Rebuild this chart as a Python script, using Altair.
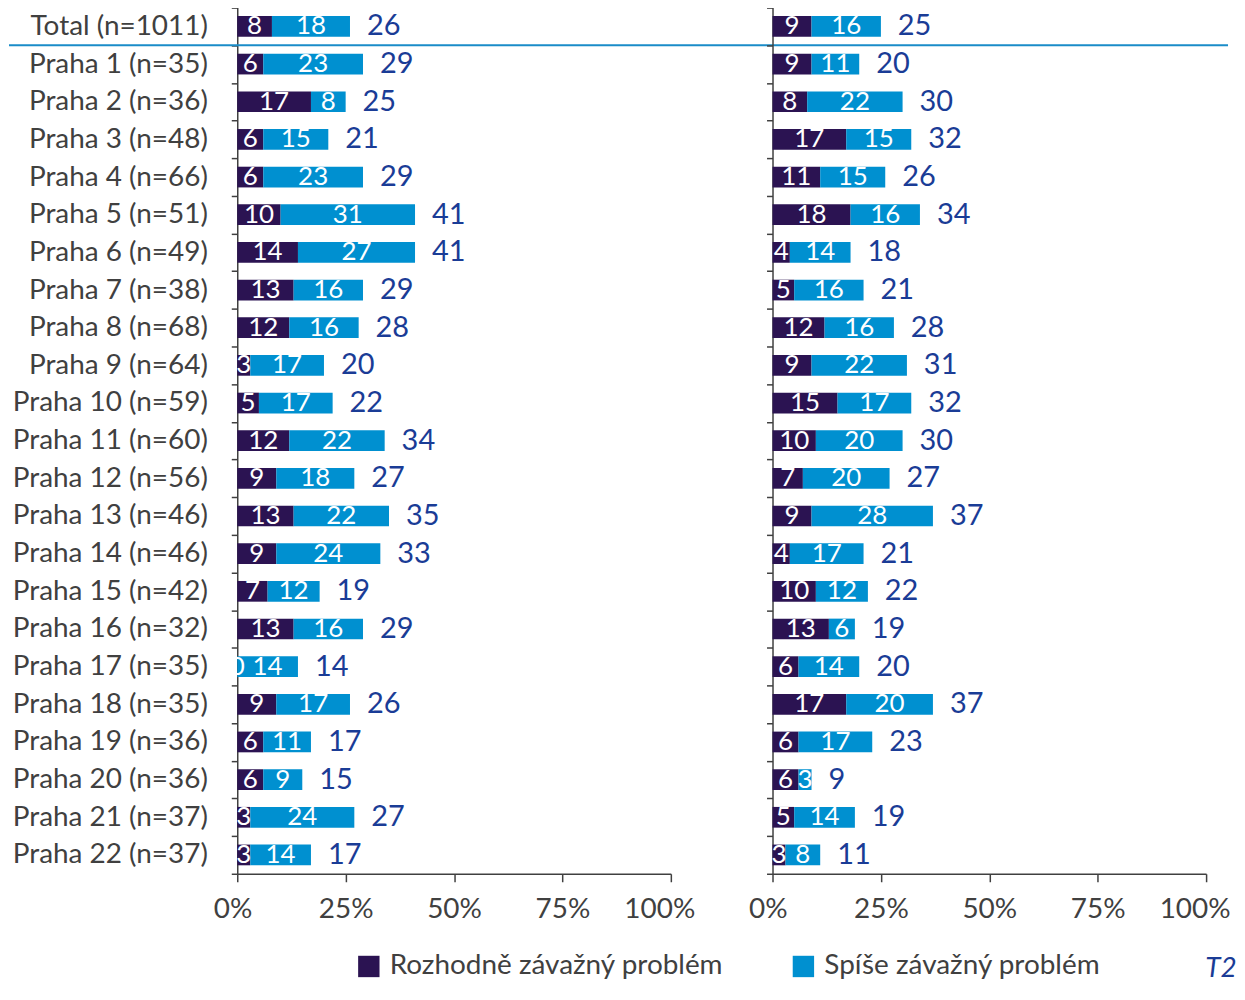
import altair as alt
import pandas as pd

categories = [
    "Total (n=1011)", "Praha 1 (n=35)", "Praha 2 (n=36)", "Praha 3 (n=48)",
    "Praha 4 (n=66)", "Praha 5 (n=51)", "Praha 6 (n=49)", "Praha 7 (n=38)",
    "Praha 8 (n=68)", "Praha 9 (n=64)", "Praha 10 (n=59)", "Praha 11 (n=60)",
    "Praha 12 (n=56)", "Praha 13 (n=46)", "Praha 14 (n=46)", "Praha 15 (n=42)",
    "Praha 16 (n=32)", "Praha 17 (n=35)", "Praha 18 (n=35)", "Praha 19 (n=36)",
    "Praha 20 (n=36)", "Praha 21 (n=37)", "Praha 22 (n=37)",
]
series = ["Rozhodně závažný problém", "Spíše závažný problém"]

left_strong = [8, 6, 17, 6, 6, 10, 14, 13, 12, 3, 5, 12, 9, 13, 9, 7, 13, 0, 9, 6, 6, 3, 3]
left_rather = [18, 23, 8, 15, 23, 31, 27, 16, 16, 17, 17, 22, 18, 22, 24, 12, 16, 14, 17, 11, 9, 24, 14]
left_total = [26, 29, 25, 21, 29, 41, 41, 29, 28, 20, 22, 34, 27, 35, 33, 19, 29, 14, 26, 17, 15, 27, 17]

right_strong = [9, 9, 8, 17, 11, 18, 4, 5, 12, 9, 15, 10, 7, 9, 4, 10, 13, 6, 17, 6, 6, 5, 3]
right_rather = [16, 11, 22, 15, 15, 16, 14, 16, 16, 22, 17, 20, 20, 28, 17, 12, 6, 14, 20, 17, 3, 14, 8]
right_total = [25, 20, 30, 32, 26, 34, 18, 21, 28, 31, 32, 30, 27, 37, 21, 22, 19, 20, 37, 23, 9, 19, 11]

x_ticks = [0, 25, 50, 75, 100]
note_text = ["T2"]

DARK = "#2b1352"
LIGHT = "#0090d0"
TOTAL_COLOR = "#1a3c96"
GRAY = "#404040"
FONT = "Lato"


def panel(strong, rather, total, show_labels, with_legend, with_rule, with_note):
    rows = []
    for c, s, r in zip(categories, strong, rather):
        rows.append({"cat": c, "series": series[0], "order": 0, "value": s})
        rows.append({"cat": c, "series": series[1], "order": 1, "value": r})
    df = pd.DataFrame(rows)
    tot = pd.DataFrame({"cat": categories, "total": total})

    xscale = alt.Scale(domain=[0, 100], nice=False, zero=True)
    yscale = alt.Scale(paddingInner=0, paddingOuter=0)

    yaxis = alt.Axis(
        title=None, labels=show_labels, tickBand="extent", ticks=True, tickSize=6,
        tickColor=GRAY, domainColor=GRAY, domainWidth=1.5, tickWidth=1.5,
        labelFont=FONT, labelFontSize=28, labelColor=GRAY, labelPadding=24,
        labelLimit=400, grid=False,
    )
    xaxis = alt.Axis(
        title=None, values=x_ticks, labelExpr="datum.value + '%'", tickSize=8,
        tickColor=GRAY, domainColor=GRAY, domainWidth=1.5, tickWidth=1.5,
        labelFont=FONT, labelFontSize=28, labelColor=GRAY, labelPadding=14,
        labelFlush=True, labelFlushOffset=24, grid=False,
    )

    def X(field):
        return alt.X(field, scale=xscale, axis=xaxis, title=None)

    def Y(**kw):
        return alt.Y("cat:N", sort=categories, scale=yscale, axis=yaxis, title=None, **kw)

    legend = None
    if with_legend:
        legend = alt.Legend(
            orient="none", legendX=118, legendY=948, direction="horizontal",
            title=None, symbolType="square", symbolSize=460, symbolStrokeWidth=0,
            labelFont=FONT, labelFontSize=28, labelColor=GRAY, labelOffset=7,
            columnPadding=66, labelLimit=600,
        )

    base = alt.Chart(df).transform_stack(
        stack="value", groupby=["cat"], as_=["x0", "x1"],
        sort=[alt.SortField("order", order="ascending")],
    ).transform_calculate(mid="(datum.x0 + datum.x1) / 2")

    bars = base.mark_bar(height=alt.RelativeBandSize(0.55)).encode(
        x=X("x0:Q"),
        x2="x1:Q",
        y=Y(),
        color=alt.Color("series:N", scale=alt.Scale(domain=series, range=[DARK, LIGHT]), legend=legend),
    )
    inner = base.mark_text(color="white", fontSize=26, font=FONT, baseline="middle").encode(
        x=X("mid:Q"),
        y=Y(),
        text="value:Q",
    )
    totals = alt.Chart(tot).mark_text(
        align="left", dx=17, fontSize=29, font=FONT, color=TOTAL_COLOR, baseline="middle"
    ).encode(
        x=X("total:Q"),
        y=Y(),
        text="total:Q",
    )
    layers = [bars, inner, totals]
    if with_rule:
        rule_df = pd.DataFrame({"cat": [categories[1]]})
        rule = alt.Chart(rule_df).mark_rule(color="#1a8cc8", strokeWidth=2).encode(
            y=Y(bandPosition=0),
            x=alt.value(-229),
            x2=alt.value(994),
        )
        layers.append(rule)
    if with_note:
        note = alt.Chart(pd.DataFrame({"t": note_text})).mark_text(
            fontStyle="italic", fontSize=28, font=FONT, color=TOTAL_COLOR,
            align="center", baseline="middle",
        ).encode(text="t:N", x=alt.value(450), y=alt.value(965))
        layers.append(note)
    return alt.layer(*layers).properties(width=435, height=869)


left = panel(left_strong, left_rather, left_total, True, True, True, False)
right = panel(right_strong, right_rather, right_total, False, False, False, True)

chart = alt.hconcat(left, right, spacing=102, bounds="flush").resolve_scale(
    color="independent"
).properties(
    padding={"left": 0, "top": -16, "right": 0, "bottom": 0},
).configure_view(stroke=None)

chart.save("out.html", embed_options={"renderer": "svg", "actions": False})
